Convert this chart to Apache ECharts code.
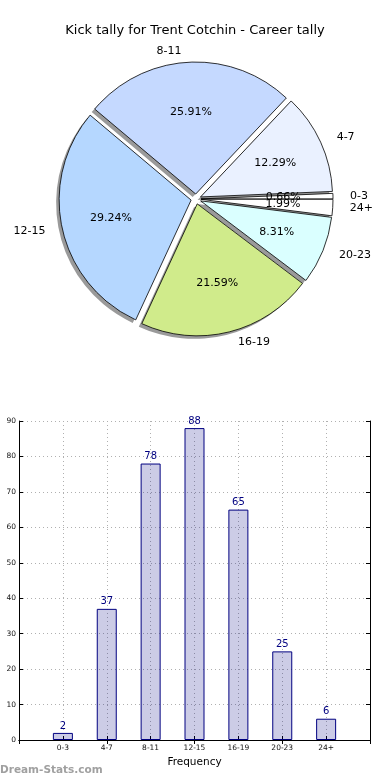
<!DOCTYPE html>
<html>
<head>
<meta charset="utf-8">
<script src="https://cdn.jsdelivr.net/npm/echarts@6/dist/echarts.min.js"></script>
<style>
html,body{margin:0;padding:0;background:#fff;}
#c{width:390px;height:780px;}
</style>
</head>
<body>
<div id="c"></div>
<script>
var categories = ['0-3', '4-7', '8-11', '12-15', '16-19', '20-23', '24+'];
var kicks = [2, 37, 78, 88, 65, 25, 6];
var pieColors = ['#ffffff', '#eaf1ff', '#c5d9ff', '#b5d7ff', '#d0eb8b', '#daffff', '#ffffff'];
var yTicks = [0, 10, 20, 30, 40, 50, 60, 70, 80, 90];
var titleText = 'Kick tally for Trent Cotchin - Career tally';
var xName = 'Frequency';
var watermark = 'Dream-Stats.com';

var FONT = 'DejaVu Sans';
var total = kicks.reduce(function (a, b) { return a + b; }, 0);
var R = 132;
var CX = 196, CY = 199;
var OFF = 5;

function pieData(colorFn) {
  return categories.map(function (c, i) {
    return { name: c, value: kicks[i], selected: true, itemStyle: { color: colorFn(i) } };
  });
}

var xCats = [''].concat(categories).concat(['']);
var barData = ['-'].concat(kicks).concat(['-']);

var chart = echarts.init(document.getElementById('c'), null, { renderer: 'canvas' });
chart.setOption({
  animation: false,
  backgroundColor: '#ffffff',
  textStyle: { fontFamily: FONT },
  title: {
    text: titleText, left: 'center', top: 19,
    textStyle: { fontFamily: FONT, fontSize: 13, fontWeight: 'normal', color: '#000' }
  },
  graphic: [{
    type: 'text', left: 0, top: 765,
    style: { text: watermark, fontFamily: FONT, fontSize: 10.5, fontWeight: 'bold', fill: '#a0a0a0' }
  }],
  grid: { left: 19, right: 20, top: 421, bottom: 40 },
  xAxis: [{
    type: 'category', data: xCats, boundaryGap: false, position: 'bottom',
    name: xName, nameLocation: 'middle', nameGap: 17,
    nameTextStyle: { fontFamily: FONT, fontSize: 10.5, color: '#000' },
    axisLine: { lineStyle: { color: '#000', width: 1 } },
    axisTick: { inside: true, length: 4, lineStyle: { color: '#000' } },
    axisLabel: { fontFamily: FONT, fontSize: 7.5, color: '#111', margin: 4, interval: 0 },
    splitLine: { show: true, lineStyle: { color: '#b0b0b0', type: [1, 3], width: 1 } }
  }, {
    type: 'category', data: xCats, boundaryGap: false, position: 'top',
    axisLine: { show: true, lineStyle: { color: '#000', width: 1 } },
    axisTick: { inside: true, length: 4, lineStyle: { color: '#000' } },
    axisLabel: { show: false }, splitLine: { show: false }
  }],
  yAxis: [{
    type: 'value', min: 0, max: 90, interval: 10, position: 'left',
    axisLine: { show: true, lineStyle: { color: '#000', width: 1 } },
    axisTick: { show: true, inside: true, length: 4, lineStyle: { color: '#000' } },
    axisLabel: { fontFamily: FONT, fontSize: 7.5, color: '#111', margin: 3,
      formatter: function (v) { return yTicks.indexOf(v) >= 0 ? String(v) : ''; } },
    splitLine: { show: true, lineStyle: { color: '#b0b0b0', type: [1, 3], width: 1 } }
  }, {
    type: 'value', min: 0, max: 90, interval: 10, position: 'right',
    axisLine: { show: true, lineStyle: { color: '#000', width: 1 } },
    axisTick: { show: true, inside: true, length: 4, lineStyle: { color: '#000' } },
    axisLabel: { show: false }, splitLine: { show: false }
  }],
  series: [
    {
      type: 'pie', name: 'shadow', silent: true,
      center: [CX - 3, CY + 3], radius: R,
      startAngle: 0, clockwise: false, selectedMode: 'multiple', selectedOffset: OFF,
      label: { show: false }, labelLine: { show: false },
      itemStyle: { borderWidth: 0 },
      select: { itemStyle: { borderWidth: 0 } },
      emphasis: { disabled: true },
      data: pieData(function () { return '#9a9a9a'; })
    },
    {
      type: 'pie', name: 'Kicks', silent: true,
      center: [CX, CY], radius: R,
      startAngle: 0, clockwise: false, selectedMode: 'multiple', selectedOffset: OFF,
      avoidLabelOverlap: false, minShowLabelAngle: 0,
      label: { show: true, position: 'outside', fontFamily: FONT, fontSize: 11, color: '#000',
        distanceToLabelLine: 0, formatter: '{b}' },
      labelLine: { show: false, length: 11, length2: 6 },
      labelLayout: { hideOverlap: false },
      itemStyle: { borderColor: '#000', borderWidth: 0.8 },
      select: { itemStyle: { borderColor: '#000', borderWidth: 0.8 } },
      emphasis: { disabled: true },
      data: pieData(function (i) { return pieColors[i]; })
    },
    {
      type: 'pie', name: 'pct', silent: true,
      center: [CX, CY], radius: R * 1.2,
      startAngle: 0, clockwise: false, selectedMode: 'multiple', selectedOffset: OFF,
      avoidLabelOverlap: false, minShowLabelAngle: 0,
      label: { show: true, position: 'inside', fontFamily: FONT, fontSize: 11, color: '#000',
        formatter: function (p) { return (p.value / total * 100).toFixed(2) + '%'; } },
      labelLine: { show: false },
      labelLayout: { hideOverlap: false },
      itemStyle: { color: 'rgba(0,0,0,0)', borderWidth: 0 },
      select: { itemStyle: { color: 'rgba(0,0,0,0)', borderWidth: 0 } },
      emphasis: { disabled: true },
      data: pieData(function () { return 'rgba(0,0,0,0)'; })
    },
    {
      type: 'bar', name: 'Frequency', xAxisIndex: 0, yAxisIndex: 0,
      data: barData, barWidth: 20,
      itemStyle: { color: 'rgba(0,0,128,0.2)', borderColor: '#000080', borderWidth: 1 },
      label: { show: true, position: 'top', distance: 2, fontFamily: FONT, fontSize: 10, color: '#000080' },
      emphasis: { disabled: true }
    }
  ]
});
</script>
</body>
</html>
